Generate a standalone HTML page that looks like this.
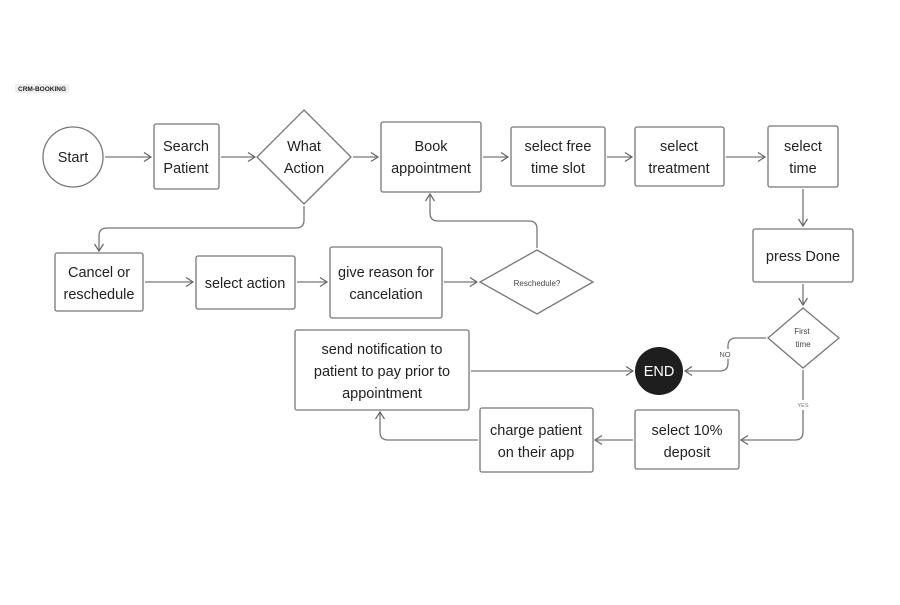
<!DOCTYPE html>
<html><head><style>
html,body{margin:0;padding:0;background:#fff;}
svg text{font-family:"Liberation Sans",sans-serif;}
</style></head><body>
<svg width="900" height="600" viewBox="0 0 900 600" xmlns="http://www.w3.org/2000/svg">
<defs>
<marker id="a" markerWidth="10" markerHeight="10" refX="8" refY="5" orient="auto" markerUnits="userSpaceOnUse">
<path d="M1,0.5 L8,5 L1,9.5" fill="none" stroke="#666" stroke-width="1.2"/>
</marker>
</defs>
<rect x="15" y="84" width="54" height="9" rx="2" fill="#eee"/>
<text x="18" y="91" font-size="6.5" font-weight="bold" fill="#222">CRM-BOOKING</text>
<g fill="#fff" stroke="#777" stroke-width="1.3">
<circle cx="73" cy="157" r="30"/>
<rect x="154" y="124" width="65" height="65" rx="2"/>
<polygon points="304,110 351,157 304,204 257,157"/>
<rect x="381" y="122" width="100" height="70" rx="2"/>
<rect x="511" y="127" width="94" height="59" rx="2"/>
<rect x="635" y="127" width="89" height="59" rx="2"/>
<rect x="768" y="126" width="70" height="61" rx="2"/>
<rect x="753" y="229" width="100" height="53" rx="2"/>
<polygon points="803,308 839,338 803,368 768,338"/>
<rect x="635" y="410" width="104" height="59" rx="2"/>
<rect x="480" y="408" width="113" height="64" rx="2"/>
<rect x="295" y="330" width="174" height="80" rx="2"/>
<rect x="55" y="253" width="88" height="58" rx="2"/>
<rect x="196" y="256" width="99" height="53" rx="2"/>
<rect x="330" y="247" width="112" height="71" rx="2"/>
<polygon points="537,250 593,282 537,314 480,282"/>
</g>
<circle cx="659" cy="371" r="24" fill="#1e1e1e"/>
<g fill="none" stroke="#777" stroke-width="1.3" marker-end="url(#a)">
<line x1="105" y1="157" x2="151" y2="157"/>
<line x1="221" y1="157" x2="255" y2="157"/>
<line x1="353" y1="157" x2="378" y2="157"/>
<line x1="483" y1="157" x2="508" y2="157"/>
<line x1="607" y1="157" x2="632" y2="157"/>
<line x1="726" y1="157" x2="765" y2="157"/>
<line x1="803" y1="189" x2="803" y2="226"/>
<line x1="803" y1="284" x2="803" y2="305"/>
<path d="M304,206 V220 Q304,228 296,228 H107 Q99,228 99,236 V251"/>
<line x1="145" y1="282" x2="193" y2="282"/>
<line x1="297" y1="282" x2="327" y2="282"/>
<line x1="444" y1="282" x2="477" y2="282"/>
<path d="M537,248 V229 Q537,221 529,221 H438 Q430,221 430,213 V194"/>
<line x1="471" y1="371" x2="633" y2="371"/>
<path d="M766,338 H736 Q728,338 728,346 V363 Q728,371 720,371 H685"/>
<path d="M803,370 V432 Q803,440 795,440 H741"/>
<line x1="633" y1="440" x2="595" y2="440"/>
<path d="M478,440 H388 Q380,440 380,432 V412"/>
</g>
<rect x="716" y="349" width="18" height="10" fill="#fff"/>
<text x="725" y="357" font-size="7.5" text-anchor="middle" fill="#555">NO</text>
<rect x="795" y="400" width="16" height="10" fill="#fff"/>
<text x="803" y="407" font-size="5.5" text-anchor="middle" fill="#777">YES</text>
<g font-size="14.5" text-anchor="middle" fill="#222">
<text x="73" y="162">Start</text>
<text x="186" y="151">Search</text><text x="186" y="173">Patient</text>
<text x="304" y="151">What</text><text x="304" y="173">Action</text>
<text x="431" y="151">Book</text><text x="431" y="173">appointment</text>
<text x="558" y="151">select free</text><text x="558" y="173">time slot</text>
<text x="679" y="151">select</text><text x="679" y="173">treatment</text>
<text x="803" y="151">select</text><text x="803" y="173">time</text>
<text x="803" y="261">press Done</text>
<text x="687" y="435">select 10%</text><text x="687" y="457">deposit</text>
<text x="536" y="435">charge patient</text><text x="536" y="457">on their app</text>
<text x="382" y="354">send notification to</text><text x="382" y="376">patient to pay prior to</text><text x="382" y="398">appointment</text>
<text x="99" y="277">Cancel or</text><text x="99" y="299">reschedule</text>
<text x="245" y="288">select action</text>
<text x="386" y="277">give reason for</text><text x="386" y="299">cancelation</text>
<text x="659" y="376" fill="#ffffff">END</text>
</g>
<text x="537" y="286" font-size="8" text-anchor="middle" fill="#444">Reschedule?</text>
<text x="802" y="334" font-size="8" text-anchor="middle" fill="#444">First</text>
<text x="803" y="347" font-size="8" text-anchor="middle" fill="#444">time</text>
</svg>
</body></html>
